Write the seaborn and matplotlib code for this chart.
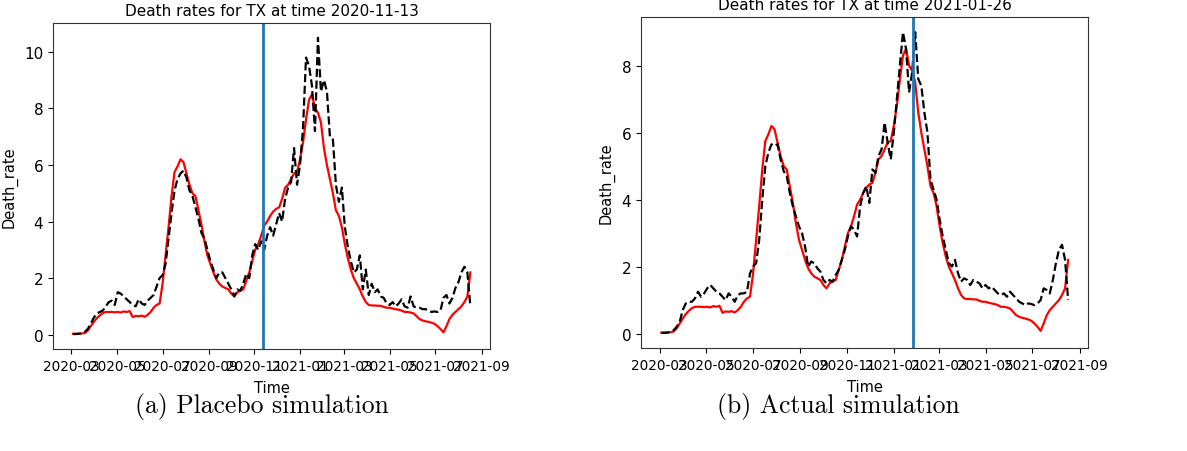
import numpy as np
import pandas as pd
import seaborn as sns
import matplotlib.pyplot as plt
import matplotlib.dates as mdates

# 4-day sampling of the TX series
start_date = "2020-03-03"
n_points = 134

observed = [
    0.03, 0.03, 0.03, 0.04, 0.06, 0.15, 0.3, 0.45, 0.58, 0.68,
    0.76, 0.8, 0.8, 0.8, 0.79, 0.8, 0.78, 0.82, 0.8, 0.83,
    0.62, 0.66, 0.65, 0.67, 0.63, 0.7, 0.8, 0.95, 1.05, 1.1,
    1.8, 2.8, 3.8, 4.9, 5.75, 5.95, 6.2, 6.1, 5.7, 5.3,
    5.0, 4.9, 4.4, 3.9, 3.3, 2.8, 2.5, 2.2, 1.95, 1.8,
    1.7, 1.65, 1.6, 1.45, 1.35, 1.5, 1.55, 1.6, 1.9, 2.2,
    2.6, 3.0, 3.2, 3.5, 3.85, 4.0, 4.2, 4.35, 4.45, 4.5,
    4.8, 5.2, 5.3, 5.5, 5.7, 5.75, 6.2, 6.8, 7.6, 8.3,
    8.5, 8.0, 7.85, 7.5, 6.6, 6.0, 5.5, 5.0, 4.4, 4.2,
    3.8, 3.2, 2.7, 2.3, 2.0, 1.8, 1.6, 1.35, 1.15, 1.05,
    1.03, 1.03, 1.02, 1.02, 0.98, 0.95, 0.95, 0.92, 0.9, 0.88,
    0.85, 0.8, 0.8, 0.78, 0.75, 0.65, 0.55, 0.5, 0.47, 0.45,
    0.42, 0.38, 0.3, 0.2, 0.08, 0.3, 0.55, 0.7, 0.8, 0.9,
    1.0, 1.15, 1.35, 2.2,
]

synthetic_placebo = [
    0.02, 0.02, 0.03, 0.05, 0.1, 0.2, 0.4, 0.6, 0.75, 0.8,
    0.85, 1.0, 1.15, 1.2, 1.05, 1.5, 1.45, 1.35, 1.25, 1.15,
    1.05, 1.0, 1.25, 1.1, 1.05, 1.2, 1.3, 1.4, 1.7, 2.0,
    2.1, 2.5, 3.4, 4.3, 5.1, 5.5, 5.7, 5.8, 5.55, 5.1,
    4.9, 4.5, 4.1, 3.6, 3.4, 3.0, 2.6, 2.3, 2.0, 2.2,
    2.2, 2.0, 1.8, 1.6, 1.35, 1.6, 1.55, 1.8, 2.15, 2.0,
    2.8, 3.2, 3.0, 3.3, 3.0, 3.5, 3.8, 3.5, 3.9, 4.3,
    4.0, 4.8, 5.2, 5.4, 6.6, 5.3, 6.0, 7.3, 9.8, 9.5,
    8.8, 7.2, 10.5, 8.6, 9.0, 8.6, 7.0, 6.9, 5.3, 4.7,
    5.2, 3.8, 3.1, 2.6, 2.2, 2.3, 2.8, 1.6, 2.3, 1.4,
    1.8, 1.5, 1.6, 1.35, 1.3, 1.1, 1.05, 1.15, 1.0, 1.1,
    1.25, 1.0, 0.95, 1.35, 1.0, 0.95, 0.95, 0.9, 0.9, 0.85,
    0.8, 0.82, 0.8, 0.85, 1.3, 1.4, 1.1, 1.3, 1.65, 1.85,
    2.2, 2.4, 2.2, 1.0,
]

synthetic_actual = [
    0.02, 0.02, 0.03, 0.05, 0.1, 0.2, 0.35, 0.7, 0.9, 0.95,
    0.95, 1.05, 1.25, 1.1, 1.2, 1.35, 1.45, 1.35, 1.25, 1.2,
    1.1, 1.0, 1.2, 1.1, 0.95, 1.15, 1.2, 1.2, 1.25, 1.8,
    2.0, 2.1, 2.8, 4.0, 5.0, 5.4, 5.65, 5.6, 5.65, 5.2,
    4.85, 4.7, 4.2, 3.8, 3.5, 3.2, 3.0, 2.6, 2.0, 2.15,
    2.1, 1.95, 1.85, 1.6, 1.5, 1.6, 1.55, 1.75, 1.9, 2.2,
    2.5, 2.9, 3.2, 3.1, 2.9, 3.8, 4.2, 4.4, 3.9, 4.9,
    4.8, 5.3, 5.5, 6.3, 5.7, 5.2, 6.0, 7.0, 8.0, 9.0,
    8.5, 7.2, 7.8, 9.0, 7.6, 7.4, 6.6, 6.0, 4.6, 4.3,
    4.0, 3.4, 2.9, 2.5, 2.1, 2.0, 2.2, 1.8, 1.55, 1.65,
    1.6, 1.45, 1.6, 1.55, 1.5, 1.35, 1.45, 1.35, 1.4, 1.3,
    1.2, 1.15, 1.2, 1.1, 1.25, 1.15, 1.05, 0.95, 0.9, 0.85,
    0.9, 0.88, 0.85, 0.9, 1.0, 1.35, 1.3, 1.2, 1.6, 2.1,
    2.5, 2.65, 2.2, 1.0,
]

dates = pd.date_range(start_date, periods=n_points, freq="4D")
panel_titles = ["Death rates for TX at time 2020-11-13", "Death rates for TX at time 2021-01-26"]
treatment_dates = ["2020-11-13", "2021-01-26"]
captions = ["(a) Placebo simulation", "(b) Actual simulation"]

df = pd.DataFrame({
    "Time": dates,
    "observed": observed,
    "placebo": synthetic_placebo,
    "actual": synthetic_actual,
})

fig = plt.figure(figsize=(11.87, 4.52), dpi=100)
ax1 = fig.add_axes([0.0447, 0.226, 0.3683, 0.721])
ax2 = fig.add_axes([0.540, 0.228, 0.377, 0.732])

for ax, col, title, tdate in zip([ax1, ax2], ["placebo", "actual"], panel_titles, treatment_dates):
    sns.lineplot(data=df, x="Time", y="observed", color="red", linewidth=1.6, ax=ax)
    sns.lineplot(data=df, x="Time", y=col, color="black", linestyle="--", linewidth=1.6, ax=ax)
    ax.axvline(pd.Timestamp(tdate), color="#1f77b4", linewidth=2)
    ax.set_title(title, fontsize=11)
    ax.set_xlabel("Time", fontsize=10.5, labelpad=5)
    ax.set_ylabel("Death_rate", fontsize=10.5, labelpad=5)
    ax.xaxis.set_major_locator(mdates.MonthLocator(bymonth=range(1, 13, 2)))
    ax.xaxis.set_major_formatter(mdates.DateFormatter("%Y-%m"))
    ax.tick_params(axis="x", labelsize=9.8)
    ax.tick_params(axis="y", labelsize=11)
    for s in ax.spines.values():
        s.set_color("#333333")

ax1.set_yticks([0, 2, 4, 6, 8, 10])
ax2.set_yticks([0, 2, 4, 6, 8])

fig.text(0.221, 0.101, captions[0], ha="center", va="center", fontsize=18.5, family="cmr10")
fig.text(0.706, 0.101, captions[1], ha="center", va="center", fontsize=18.5, family="cmr10")

plt.savefig("out.png", dpi=100)
plt.close(fig)
